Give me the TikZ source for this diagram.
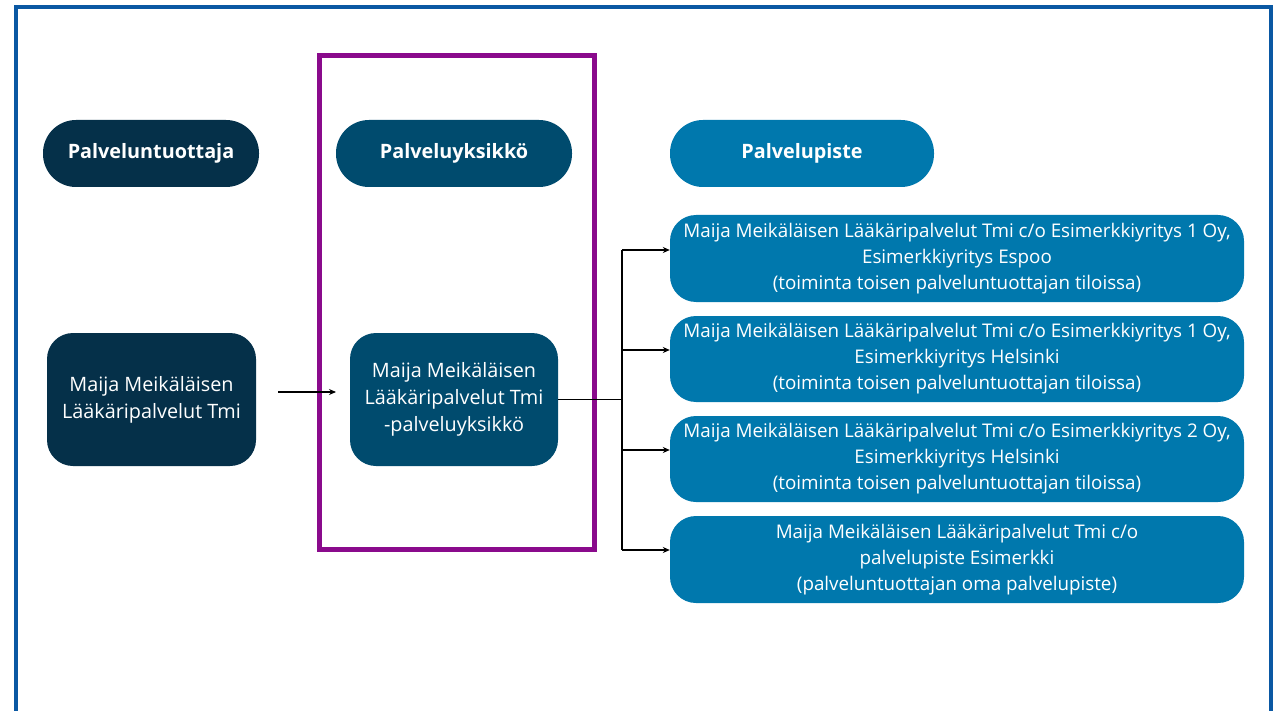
\documentclass[tikz,border=0pt]{standalone}
\usepackage{fontspec}
\setmainfont{Open Sans}
\usetikzlibrary{arrows.meta}
\definecolor{cdark}{HTML}{053049}
\definecolor{cmid}{HTML}{004B6E}
\definecolor{clight}{HTML}{0078AD}
\definecolor{cpurple}{HTML}{8A0A8C}
\definecolor{cborder}{HTML}{0A58A3}
\tikzset{
  hdr/.style={rounded corners=33pt, minimum height=67pt, inner sep=0pt, text=white,
    font=\fontsize{19.8}{26}\selectfont\bfseries, align=center},
  bigbox/.style={rounded corners=26pt, inner sep=0pt, text=white,
    font=\fontsize{18.8}{26}\selectfont, align=center},
  unitbox/.style={bigbox, font=\fontsize{19.8}{27}\selectfont},
  arr/.style={draw=black, line width=1.2pt, -{Stealth[length=7pt,width=6pt]}},
  conn/.style={draw=black, line width=1.2pt},
}
\begin{document}
\begin{tikzpicture}[x=1pt,y=-1pt]
\useasboundingbox (0,0) rectangle (1276,711);
% outer border (open at bottom)
\draw[cborder, line width=4pt] (16,711) -- (16,7.5) -- (1271,7.5) -- (1271,711);
% purple frame
\draw[cpurple, line width=5pt] (319,56) rectangle (594,549);
% headers
\node[hdr, fill=cdark, minimum width=216pt] (h1) at (151,153.5) {Palveluntuottaja};
\node[hdr, fill=cmid, minimum width=236pt] (h2) at (454,153.5) {Palveluyksikkö};
\node[hdr, fill=clight, minimum width=264pt] (h3) at (802,153.5) {Palvelupiste};
% boxes
\node[unitbox, fill=cdark, minimum width=209pt, minimum height=133pt] (lb) at (151.5,399.5)
  {Maija Meikäläisen\\Lääkäripalvelut Tmi};
\node[unitbox, fill=cmid, minimum width=208pt, minimum height=133pt] (mb) at (454,399.5)
  {Maija Meikäläisen\\Lääkäripalvelut Tmi\\-palveluyksikkö};
\node[bigbox, fill=clight, minimum width=574pt, minimum height=87pt] (r1) at (957,258.5)
  {Maija Meikäläisen Lääkäripalvelut Tmi c/o Esimerkkiyritys 1 Oy,\\Esimerkkiyritys Espoo\\(toiminta toisen palveluntuottajan tiloissa)};
\node[bigbox, fill=clight, minimum width=574pt, minimum height=86pt] (r2) at (957,359)
  {Maija Meikäläisen Lääkäripalvelut Tmi c/o Esimerkkiyritys 1 Oy,\\Esimerkkiyritys Helsinki\\(toiminta toisen palveluntuottajan tiloissa)};
\node[bigbox, fill=clight, minimum width=574pt, minimum height=86pt] (r3) at (957,459)
  {Maija Meikäläisen Lääkäripalvelut Tmi c/o Esimerkkiyritys 2 Oy,\\Esimerkkiyritys Helsinki\\(toiminta toisen palveluntuottajan tiloissa)};
\node[bigbox, fill=clight, minimum width=574pt, minimum height=87pt] (r4) at (957,559.5)
  {Maija Meikäläisen Lääkäripalvelut Tmi c/o\\palvelupiste Esimerkki\\(palveluntuottajan oma palvelupiste)};
% connectors
\coordinate (a0) at (278,392);
\coordinate (a1) at (336,392);
\draw[arr] (a0) -- (a1);
\coordinate (t0) at (622,399.5);
\coordinate (t1) at (622,250);
\coordinate (t2) at (622,350);
\coordinate (t3) at (622,450);
\coordinate (t4) at (622,550);
\draw[conn] (mb.east) -- (t0);
\draw[conn] (t1) -- (t4);
\draw[arr] (t1) -- (r1.west |- t1);
\draw[arr] (t2) -- (r2.west |- t2);
\draw[arr] (t3) -- (r3.west |- t3);
\draw[arr] (t4) -- (r4.west |- t4);
\end{tikzpicture}
\end{document}
